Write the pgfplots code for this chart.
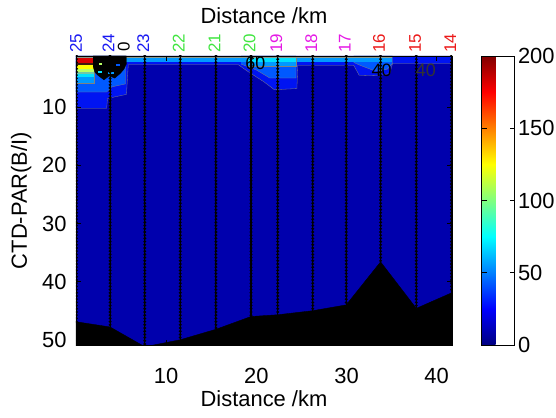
\documentclass[border=0pt]{standalone}
\usepackage{fontspec}
\setmainfont{Liberation Sans}
\usepackage{graphicx}
\usepackage{pgfplots}
\pgfplotsset{compat=1.18}
\definecolor{cA}{rgb}{0,0,0.68}
\definecolor{cB}{rgb}{0,0.08,0.95}
\definecolor{cC}{rgb}{0,0.35,1}
\definecolor{cD}{rgb}{0,0.6,1}
\definecolor{cE}{rgb}{0,0.88,1}
\definecolor{cF}{rgb}{0.45,0.78,0.65}
\definecolor{cG}{rgb}{0.72,1,0.4}
\definecolor{cH}{rgb}{1,1,0}
\definecolor{cI}{rgb}{0.25,0.1,0.05}
\definecolor{cJ}{rgb}{0.85,0,0}
\definecolor{cGray}{rgb}{0.55,0.6,0.55}
\definecolor{sBlue}{rgb}{0.1,0.1,0.95}
\definecolor{sGreen}{rgb}{0.25,0.9,0.25}
\definecolor{sMag}{rgb}{0.9,0.1,0.9}
\definecolor{sRed}{rgb}{0.92,0.1,0.1}
\newcommand{\bigf}{\fontsize{22}{24}\selectfont}
\begin{document}
\begin{tikzpicture}
\useasboundingbox (-76bp,-73bp) rectangle (480bp,345bp);
\begin{axis}[
  at={(0,0)}, anchor=south west,
  scale only axis, width=376bp, height=289bp,
  xmin=0, xmax=41.7, ymin=1.2, ymax=50.9, y dir=reverse,
  xtick={10,20,30,40}, ytick={10,20,30,40,50},
  tick align=inside, major tick length=5bp,
  tick style={black, line width=0.5bp},
  axis line style={line width=0.6bp},
  /pgf/number format/assume math mode=true,
  tick label style={font=\bigf},
  yticklabel style={xshift=-6bp},
  xticklabel style={yshift=-20bp},
  label style={font=\bigf},
  xlabel={Distance /km},
  x label style={at={(axis description cs:0.5,-0.187)}, anchor=center},
  ylabel={CTD-PAR(B/I)},
  y label style={at={(axis description cs:-0.146,0.5)}, anchor=center},
  title={Distance /km},
  title style={at={(axis description cs:0.5,1.12)}, anchor=center, font=\bigf},
  axis on top, clip mode=individual,
  colormap/jet, colorbar, point meta min=0, point meta max=200,
  colorbar style={
     at={(parent axis.north east)}, anchor=north west, xshift=21bp,
     scale only axis, width=33bp, height=289bp,
     ytick={0,50,100,150,200},
     tick align=inside, major tick length=5bp,
     yticklabel pos=right, ytick pos=both,
     /pgf/number format/assume math mode=true,
     yticklabel style={font=\bigf},
     axis line style={line width=0.6bp},
  },
]
% background field (0-20)
\addplot[fill=cA, draw=none] coordinates {(0,1.2) (41.7,1.2) (41.7,51) (0,51)};
% 20-40
\addplot[fill=cB, draw=black!50, line width=0.3bp] coordinates {(0,1.2) (41.7,1.2) (41.7,2.5) (35.1,2.5) (34.8,4.2) (33.5,4.6) (31.4,4.5) (30.8,2.8) (24.6,2.8) (24.5,6.8) (22.0,7.0) (20.8,5.6) (19.0,3.8) (18.0,2.7) (5.8,2.7) (5.6,7.8) (3.5,8.5) (3.4,10.2) (0,10.2)};
% 40-60
\addplot[fill=cC, draw=black!50, line width=0.3bp] coordinates {(0,1.2) (5.5,1.2) (5.5,6.0) (4.0,6.5) (3.4,7.4) (0,7.4)};
\addplot[fill=cC, draw=black!50, line width=0.3bp] coordinates {(18.3,1.2) (24.4,1.2) (24.4,5.0) (21.5,5.0) (20.0,3.6) (18.3,2.6)};
\addplot[fill=cC, draw=black!50, line width=0.3bp] coordinates {(30.8,1.2) (35.1,1.2) (35.1,2.5) (34.5,3.5) (33.2,3.8) (31.5,2.8) (30.8,2.3)};
% 60-80
\addplot[fill=cD, draw=none] coordinates {(0,1.2) (35.1,1.2) (35.1,2.2) (0,2.2)};
\addplot[fill=cD, draw=black!50, line width=0.3bp] coordinates {(0,1.2) (2.0,1.2) (2.0,5.9) (0,5.9)};
\addplot[fill=cD, draw=black!50, line width=0.3bp] coordinates {(19.0,1.2) (24.4,1.2) (24.4,2.9) (19.0,2.9)};
% 80-100
\addplot[fill=cE, draw=none] coordinates {(0,1.2) (2.0,1.2) (2.0,4.85) (0,4.85)};
\addplot[fill=cE, draw=none] coordinates {(19.0,1.2) (24.4,1.2) (24.4,2.3) (19.0,2.3)};
% higher levels at station 25
\addplot[fill=cF, draw=none] coordinates {(0,1.2) (2.0,1.2) (2.0,4.33) (0,4.33)};
\addplot[fill=cG, draw=none] coordinates {(0,1.2) (2.0,1.2) (2.0,3.94) (0,3.94)};
\addplot[fill=cH, draw=none] coordinates {(0,1.2) (2.0,1.2) (2.0,3.36) (0,3.36)};
\addplot[fill=cI, draw=none] coordinates {(0,1.2) (2.0,1.2) (2.0,2.79) (0,2.79)};
\addplot[fill=cJ, draw=none] coordinates {(0,1.2) (1.86,1.2) (1.86,2.33) (0,2.33)};
% surface strip
\addplot[fill=cGray, draw=none] coordinates {(0,1.2) (35.1,1.2) (35.1,1.6) (0,1.6)};
% dense contour lines near station 24
\addplot[fill=black, draw=black] coordinates {(1.9,1.2) (5.6,1.2) (5.6,2.5) (5.3,3.5) (4.9,4.2) (4.3,5.0) (3.7,4.6) (3.1,5.3) (2.5,4.6) (2.1,4.0) (1.9,3.0)};
\addplot[fill=cE, draw=none] coordinates {(2.4,3.7) (2.9,3.7) (2.9,4.1) (2.4,4.1)};
\addplot[fill=cD, draw=none] coordinates {(3.6,3.9) (4.2,3.9) (4.2,4.3) (3.6,4.3)};
\addplot[fill=cC, draw=none] coordinates {(4.4,2.6) (4.9,2.6) (4.9,3.0) (4.4,3.0)};
\addplot[fill=cG, draw=none] coordinates {(2.6,2.4) (2.9,2.4) (2.9,2.8) (2.6,2.8)};
% bottom
\addplot[fill=black, draw=black] coordinates {(0,46.9) (3.78,47.8) (7.63,51.2) (11.56,50.0) (15.52,48.2) (19.41,46.0) (22.37,45.7) (26.26,45.0) (29.97,44.0) (33.78,36.6) (37.74,44.6) (41.7,41.9) (41.7,52) (0,52)};
% station casts
\pgfplotsset{cast/.style={black, line width=1.1bp}, castdots/.style={black, line width=3.2bp, line cap=round, dash pattern=on 0bp off 3.2bp}}
\addplot[cast] coordinates {(0.05,1.2) (0.05,46.9)};
\addplot[castdots] coordinates {(0.05,1.2) (0.05,46.9)};
\addplot[cast] coordinates {(3.78,1.2) (3.78,47.8)};
\addplot[castdots] coordinates {(3.78,1.2) (3.78,47.8)};
\addplot[cast] coordinates {(7.63,1.2) (7.63,50.9)};
\addplot[castdots] coordinates {(7.63,1.2) (7.63,50.9)};
\addplot[cast] coordinates {(11.56,1.2) (11.56,50.0)};
\addplot[castdots] coordinates {(11.56,1.2) (11.56,50.0)};
\addplot[cast] coordinates {(15.52,1.2) (15.52,48.2)};
\addplot[castdots] coordinates {(15.52,1.2) (15.52,48.2)};
\addplot[cast] coordinates {(19.41,1.2) (19.41,46.0)};
\addplot[castdots] coordinates {(19.41,1.2) (19.41,46.0)};
\addplot[cast] coordinates {(22.37,1.2) (22.37,45.7)};
\addplot[castdots] coordinates {(22.37,1.2) (22.37,45.7)};
\addplot[cast] coordinates {(26.26,1.2) (26.26,45.0)};
\addplot[castdots] coordinates {(26.26,1.2) (26.26,45.0)};
\addplot[cast] coordinates {(29.97,1.2) (29.97,44.0)};
\addplot[castdots] coordinates {(29.97,1.2) (29.97,44.0)};
\addplot[cast] coordinates {(33.78,1.2) (33.78,36.6)};
\addplot[castdots] coordinates {(33.78,1.2) (33.78,36.6)};
\addplot[cast] coordinates {(37.74,1.2) (37.74,44.6)};
\addplot[castdots] coordinates {(37.74,1.2) (37.74,44.6)};
\addplot[cast] coordinates {(41.65,1.2) (41.65,41.9)};
\addplot[castdots] coordinates {(41.65,1.2) (41.65,41.9)};
% contour labels
\node[font=\fontsize{18}{18}\selectfont, text=black] at (axis cs:19.9,2.4) {60};
\node[font=\fontsize{18}{18}\selectfont, text=black] at (axis cs:33.9,3.6) {40};
\node[font=\fontsize{18}{18}\selectfont, text=black!80] at (axis cs:38.8,3.6) {40};
\coordinate (c0) at (axis cs:5.3,-0.3);
\coordinate (s25) at (axis cs:0,1.2);
\coordinate (s24) at (axis cs:3.6,1.2);
\coordinate (s23) at (axis cs:7.45,1.2);
\coordinate (s22) at (axis cs:11.4,1.2);
\coordinate (s21) at (axis cs:15.35,1.2);
\coordinate (s20) at (axis cs:19.25,1.2);
\coordinate (s19) at (axis cs:22.2,1.2);
\coordinate (s18) at (axis cs:26.1,1.2);
\coordinate (s17) at (axis cs:29.8,1.2);
\coordinate (s16) at (axis cs:33.6,1.2);
\coordinate (s15) at (axis cs:37.6,1.2);
\coordinate (s14) at (axis cs:41.5,1.2);
\end{axis}
\tikzset{st/.style={anchor=south, inner sep=0pt, yshift=3bp, font=\fontsize{17}{17}\selectfont}}
\node[inner sep=0pt, font=\fontsize{17}{17}\selectfont, text=black] at (c0) {\rotatebox{90}{0}};
\node[st, text=sBlue] at (s25) {\rotatebox{90}{25}};
\node[st, text=sBlue] at (s24) {\rotatebox{90}{24}};
\node[st, text=sBlue] at (s23) {\rotatebox{90}{23}};
\node[st, text=sGreen] at (s22) {\rotatebox{90}{22}};
\node[st, text=sGreen] at (s21) {\rotatebox{90}{21}};
\node[st, text=sGreen] at (s20) {\rotatebox{90}{20}};
\node[st, text=sMag] at (s19) {\rotatebox{90}{19}};
\node[st, text=sMag] at (s18) {\rotatebox{90}{18}};
\node[st, text=sMag] at (s17) {\rotatebox{90}{17}};
\node[st, text=sRed] at (s16) {\rotatebox{90}{16}};
\node[st, text=sRed] at (s15) {\rotatebox{90}{15}};
\node[st, text=sRed] at (s14) {\rotatebox{90}{14}};
\end{tikzpicture}
\end{document}
